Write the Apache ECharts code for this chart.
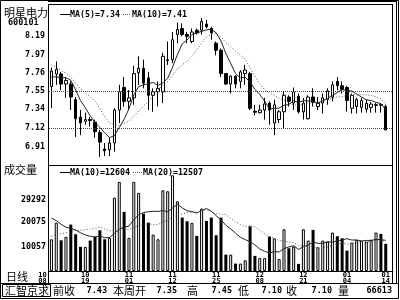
<!DOCTYPE html>
<html><head><meta charset="utf-8">
<script src="https://cdn.jsdelivr.net/npm/echarts@6/dist/echarts.min.js"></script>
<style>html,body{margin:0;padding:0;background:#fff}#c{width:400px;height:300px}</style>
</head><body><div id="c"></div>
<script>
// ---- data ----
const stockName = '明星电力';
const stockCode = '600101';
const opens = [7.60,7.745,7.745,7.63,7.63,7.45,7.25,7.20,7.22,7.19,
 7.07,6.88,6.87,6.95,7.33,7.59,7.43,7.47,7.76,7.81,
 7.70,7.50,7.54,7.54,7.90,7.91,8.20,8.27,8.20,8.12,
 8.25,8.25,8.32,8.27,8.10,8.02,7.75,7.63,7.72,7.66,
 7.75,7.75,7.315,7.30,7.33,7.41,7.18,7.22,7.31,7.48,
 7.41,7.49,7.31,7.23,7.48,7.37,7.41,7.45,7.48,7.66,
 7.61,7.59,7.35,7.37,7.36,7.34,7.36,7.384,7.392,7.37];
const closes = [7.78,7.80,7.63,7.67,7.48,7.23,7.18,7.22,7.21,7.08,
 6.96,6.86,6.95,7.33,7.54,7.43,7.47,7.75,7.81,7.64,
 7.50,7.54,7.58,7.95,7.91,8.14,8.26,8.20,8.18,8.23,
 8.22,8.35,8.29,8.22,8.02,7.75,7.63,7.72,7.63,7.77,
 7.79,7.35,7.305,7.33,7.40,7.33,7.39,7.31,7.50,7.43,
 7.54,7.31,7.41,7.48,7.42,7.41,7.47,7.55,7.62,7.61,
 7.57,7.44,7.50,7.45,7.44,7.407,7.399,7.392,7.384,7.10];
const highs = [7.82,7.89,7.77,7.70,7.66,7.48,7.33,7.30,7.25,7.22,
 7.10,6.95,7.01,7.35,7.62,7.71,7.56,7.84,7.95,7.91,
 7.77,7.58,7.66,7.99,8.12,8.23,8.34,8.33,8.23,8.27,
 8.27,8.39,8.37,8.29,8.12,8.04,7.75,7.73,7.73,7.79,
 7.85,7.77,7.39,7.39,7.47,7.43,7.45,7.33,7.54,7.50,
 7.59,7.52,7.47,7.50,7.58,7.48,7.52,7.58,7.66,7.71,
 7.66,7.61,7.52,7.47,7.47,7.45,7.42,7.41,7.41,7.39];
const lows = [7.35,7.62,7.56,7.47,7.33,7.02,7.04,7.16,7.14,7.01,
 6.79,6.80,6.80,6.85,7.18,7.37,7.33,7.39,7.62,7.58,
 7.33,7.31,7.37,7.41,7.85,7.87,8.10,8.18,8.10,8.10,
 8.20,8.20,8.27,8.14,7.96,7.71,7.62,7.52,7.58,7.58,
 7.62,7.33,7.27,7.29,7.22,7.16,7.04,7.18,7.12,7.37,
 7.33,7.29,7.22,7.22,7.37,7.33,7.29,7.39,7.43,7.56,
 7.52,7.31,7.29,7.29,7.30,7.30,7.30,7.30,7.30,7.10];
const volumes = [13050,19920,12640,14040,19100,15110,9920,9920,12520,14040,
 16750,13050,13630,30210,36670,24330,13630,36670,32140,23630,
 19920,14980,13050,33210,32800,39390,28690,21980,20460,19800,
 14450,25680,20620,21980,14700,21980,6750,6750,3050,3050,
 4410,18400,6220,5310,5310,14160,13420,4900,17170,9350,
 10050,2930,17170,12520,16920,9760,12520,12100,15810,14320,
 13460,8400,11690,12800,12520,12100,12800,15810,15270,11190];
// sessions before the first visible bar (estimated from where the MA lines start)
const priorCloses = [8.05,8.02,7.98,7.95,7.95,7.78,7.70,7.65,7.64];
const priorVolumes = [6000,7000,6500,7500,6800,7200,6900,7100,7000,7000,
 30000,28000,26000,24000,22000,21000,19000,18000,16620];
const priceTicks = [6.91, 7.12, 7.34, 7.55, 7.76, 7.97, 8.19];
const volumeTicks = [10057, 20075, 29292];
const guideLevels = [7.55, 7.12];
const xTickIndex = [0, 7, 16, 25, 34, 43, 52, 61, 69];
const xTickText = ['10\n08','10\n19','11\n01','11\n12','11\n25','12\n08','12\n21','01\n04','01\n14'];
const statusLabels = ['前收','本周开','高','低','收','量'];
const statusValues = ['7.43','7.35','7.45','7.10','7.10','66613'];

// ---- derived ----
function movingAvg(vals, prior, n) {
  const all = prior.concat(vals), off = prior.length;
  return vals.map((_, i) => { let s = 0; for (let k = 0; k < n; k++) s += all[off + i - k]; return s / n; });
}
const ma5 = movingAvg(closes, priorCloses, 5);
const ma10 = movingAvg(closes, priorCloses, 10);
const vma10 = movingAvg(volumes, priorVolumes, 10);
const vma20 = movingAvg(volumes, priorVolumes, 20);
const N = closes.length;
const categories = [];
for (let i = 0; i <= N; i++) categories.push(String(i));
const tickMap = {};
xTickIndex.forEach((idx, k) => tickMap[idx] = xTickText[k]);
const candleData = opens.map((o, i) => [o, closes[i], lows[i], highs[i]]);
const volData = volumes.map((v, i) => {
  const up = closes[i] >= opens[i];
  return { value: v, itemStyle: { color: up ? '#fff' : '#000', borderColor: '#000', borderWidth: up ? 1 : 0 } };
});

const mono = '"DejaVu Sans Mono", monospace';
const cjk = '"Noto Sans CJK SC", sans-serif';
const monoFont = 'bold 8.3px ' + mono;
const cjkFont = '11px ' + cjk;

function txt(x, y, text, font, align) {
  return { type: 'text', x: x, y: y, z: 10, style: { text: text, font: font, fill: '#000', align: align || 'left', verticalAlign: 'middle' } };
}
function ln(x1, y1, x2, y2, dash, color) {
  return { type: 'line', z: 10, shape: { x1: x1, y1: y1, x2: x2, y2: y2 }, style: { stroke: color || '#000', lineWidth: 1, lineDash: dash || null } };
}

const graphics = [
  { type: 'rect', z: 10, shape: { x: 0.5, y: 0.5, width: 398, height: 298 }, style: { fill: null, stroke: '#000', lineWidth: 1 } },
  ln(48.5, 4.5, 48.5, 283), ln(48, 4.5, 393, 4.5), ln(392.5, 4.5, 392.5, 283),
  ln(396.5, 0.5, 396.5, 283), ln(48, 1.5, 397, 1.5),
  ln(48, 165.5, 393, 165.5), ln(0, 283.5, 399, 283.5),
  { type: 'rect', z: 10, shape: { x: 2.5, y: 284.5, width: 48, height: 12 }, style: { fill: null, stroke: '#000', lineWidth: 1 } },
  txt(4, 12.5, stockName, cjkFont),
  txt(8, 23, stockCode, 'bold 8.5px ' + mono),
  txt(4, 170, '成交量', cjkFont),
  txt(6, 277, '日线', cjkFont),
  txt(5, 290.5, '汇智京求', cjkFont),
  ln(60, 14.5, 70, 14.5),
  txt(70, 14.5, 'MA(5)=' + ma5[N - 1].toFixed(2), monoFont),
  ln(123, 14.5, 131, 14.5, [1, 1], '#555'),
  txt(132, 14.5, 'MA(10)=' + ma10[N - 1].toFixed(2), monoFont),
  ln(60, 172.5, 70, 172.5),
  txt(70, 172.5, 'MA(10)=' + Math.round(vma10[N - 1]), monoFont),
  ln(133, 172.5, 142, 172.5, [1, 1], '#555'),
  txt(143, 172.5, 'MA(20)=' + Math.round(vma20[N - 1]), monoFont)
];
const labelX = [53, 113, 187, 238, 286, 338];
const valueRight = [107, 177, 232, 282, 332, 392];
statusLabels.forEach((l, k) => {
  graphics.push(txt(labelX[k], 290.5, l, cjkFont));
  graphics.push(txt(valueRight[k], 290.5, statusValues[k], 'bold 8.5px ' + mono, 'right'));
});

const labelRich = {
  t: { fontFamily: mono, fontSize: 7, fontWeight: 'bold', color: '#000', lineHeight: 6 },
  f: { fontFamily: mono, fontSize: 7, fontWeight: 'bold', color: '#000', lineHeight: 6, padding: [0, 18, 0, 0] }
};

const option = {
  animation: false,
  backgroundColor: '#fff',
  grid: [
    { left: 49, right: 7, top: 5, height: 159 },
    { left: 49, right: 7, top: 166, height: 105 }
  ],
  xAxis: [
    { type: 'category', gridIndex: 0, data: categories, boundaryGap: true, axisLine: { show: false }, axisTick: { show: false }, axisLabel: { show: false }, splitLine: { show: false } },
    { type: 'category', gridIndex: 1, data: categories, boundaryGap: true,
      axisLine: { show: true, lineStyle: { color: '#000', width: 1 } }, axisTick: { show: false }, splitLine: { show: false },
      axisLabel: { interval: 0, margin: 1, rich: labelRich,
        formatter: (v, idx) => {
          const t = tickMap[idx];
          if (!t) return '';
          const tag = idx === 0 ? 'f' : 't';
          return t.split('\n').map(s => '{' + tag + '|' + s + '}').join('\n');
        } } }
  ],
  yAxis: [
    { type: 'value', gridIndex: 0, min: 6.7075, max: 8.541, splitLine: { show: false }, axisLine: { show: false }, axisTick: { show: false },
      axisLabel: { customValues: priceTicks, formatter: v => v.toFixed(2), fontFamily: mono, fontSize: 8.3, fontWeight: 'bold', color: '#000', margin: 4 } },
    { type: 'value', gridIndex: 1, min: 0, max: 43210, splitLine: { show: false }, axisLine: { show: false }, axisTick: { show: false },
      axisLabel: { customValues: volumeTicks, formatter: v => String(v), fontFamily: mono, fontSize: 8.3, fontWeight: 'bold', color: '#000', margin: 3 } }
  ],
  series: [
    { type: 'candlestick', xAxisIndex: 0, yAxisIndex: 0, data: candleData, barWidth: 3,
      itemStyle: { color: '#fff', color0: '#000', borderColor: '#000', borderColor0: '#000', borderWidth: 1 },
      markLine: { silent: true, symbol: ['none', 'none'], label: { show: false },
        lineStyle: { color: '#444', type: [1, 1], width: 1 },
        data: guideLevels.map(v => ({ yAxis: v })) } },
    { type: 'line', xAxisIndex: 0, yAxisIndex: 0, data: ma5, symbol: 'none', lineStyle: { color: '#222', width: 1 } },
    { type: 'line', xAxisIndex: 0, yAxisIndex: 0, data: ma10, symbol: 'none', lineStyle: { color: '#555', width: 1, type: [1, 2] } },
    { type: 'bar', xAxisIndex: 1, yAxisIndex: 1, data: volData, barWidth: 3 },
    { type: 'line', xAxisIndex: 1, yAxisIndex: 1, data: vma10, symbol: 'none', lineStyle: { color: '#222', width: 1 } },
    { type: 'line', xAxisIndex: 1, yAxisIndex: 1, data: vma20, symbol: 'none', lineStyle: { color: '#555', width: 1, type: [1, 2] } }
  ],
  graphic: graphics
};
const chart = echarts.init(document.getElementById('c'), null, { renderer: 'canvas' });
chart.setOption(option);
</script></body></html>
